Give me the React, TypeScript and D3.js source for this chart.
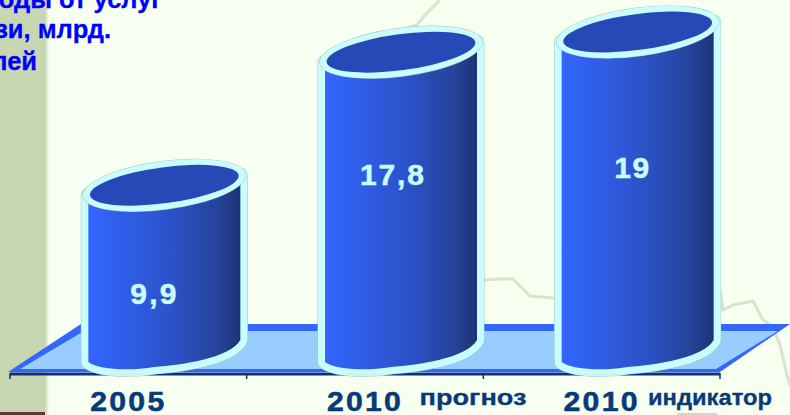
import React from "react";
import * as d3 from "d3";

const W = 790, H = 415;
const categories = ["2005", "2010 прогноз", "2010 индикатор"];
const values = [9.9, 17.8, 19];
const valueLabels = ["9,9", "17,8", "19"];
const axisYears = ["2005", "2010", "2010"];
const axisNotes = ["", "прогноз", "индикатор"];
const titleLines = ["Доходы от услуг", "связи, млрд.", "рублей"];
const mapRiverA: [number, number][] = [[440, 0], [432, 8], [425, 15], [417, 25], [407, 28], [402, 33]];
const mapRiverB: [number, number][] = [[483, 280], [498, 279], [513, 279], [522, 288], [530, 296], [553, 298], [560, 298]];
const mapRiverC: [number, number][] = [[720, 290], [723, 310], [733, 305], [753, 301], [763, 320], [772, 326], [780, 345], [787, 375], [790, 385]];

const x = d3.scaleBand<string>().domain(categories).range([10, 720]);
const y = d3.scaleLinear().domain([0, 19]).range([352, 32]);
const line = d3.line<[number, number]>();
const depth = 36;

function Cylinder({ value, cat, label, i }: { value: number; cat: string; label: string; i: number }) {
  const cx = x(cat)! + x.bandwidth() / 2 + depth;
  const yt = y(value), hw = 76, tip = 10, ry = 18, base = y(0);
  const left = cx - hw, right = cx + hw;
  const body = d3.path();
  body.moveTo(left, yt + tip);
  body.lineTo(left, base + 10);
  body.bezierCurveTo(left + 10, base + 18, left + 42, base + 19, cx - 10, base + 15);
  body.bezierCurveTo(cx + 18, base + 13, right - 10, base + 6, right, base - 12);
  body.lineTo(right, yt - tip);
  body.closePath();
  const d = body.toString();
  const rot = `rotate(-7.6 ${cx} ${yt})`;
  const dx = [-11, -9, -6][i];
  const ly = yt + [119, 133, 146][i];
  return (
    <g>
      <path d={d} fill="none" stroke="#a9c6c0" strokeWidth={15} strokeLinejoin="round" />
      <path d={d} fill="none" stroke="#c9fdfd" strokeWidth={14} strokeLinejoin="round" />
      <path d={d} fill="url(#bar)" />
      <ellipse cx={cx} cy={yt} rx={hw + 6.5} ry={ry + 6.5} transform={rot} fill="#a9c6c0" />
      <ellipse cx={cx} cy={yt} rx={hw + 6} ry={ry + 6} transform={rot} fill="#c9fdfd" />
      <ellipse cx={cx} cy={yt} rx={hw - 1} ry={ry} transform={rot} fill="#2749b8" />
      <text x={cx + dx} y={ly} textAnchor="middle" fontFamily="Liberation Sans" fontWeight={700} fontSize={30}
        textLength={[46, 64, 35][i]} lengthAdjust="spacing"
        stroke="#c9fdfd" strokeWidth={0.5} fill="#c9fdfd">{label}</text>
      <line x1={cx - 54} x2={cx - 16} y1={374.5} y2={374.5} stroke="#cfeef0" strokeWidth={2} />
    </g>
  );
}

export default function App() {
  const floorOuter = d3.line()([[8, 372], [81, 324], [790, 324], [720, 372]]) + "Z";
  const floorInner = d3.line()([[20, 369], [84, 331], [778, 331], [716, 369]]) + "Z";
  return (
    <svg width={W} height={H} viewBox={`0 0 ${W} ${H}`}
      style={{ position: "fixed", left: 0, top: 0, display: "block" }}>
      <defs>
        <linearGradient id="bar" x1="0" x2="1" y1="0" y2="0">
          <stop offset="0" stopColor="#3366ff" />
          <stop offset="0.55" stopColor="#2c52c8" />
          <stop offset="0.85" stopColor="#254399" />
          <stop offset="1" stopColor="#1d3377" />
        </linearGradient>
        <linearGradient id="fade" x1="0" x2="1" y1="0" y2="0">
          <stop offset="0" stopColor="#c8d7b2" />
          <stop offset="1" stopColor="#f6fff0" />
        </linearGradient>
      </defs>
      <rect width={W} height={H} fill="#f6fff0" />
      <rect width={45} height={H} fill="#c8d7b2" />
      <rect x={45} width={4} height={H} fill="url(#fade)" />
      <rect y={412} width={45} height={3} fill="#5a3c34" />
      <rect x={677} y={413} width={40} height={2} fill="#d5d5d0" />
      {[mapRiverA, mapRiverB, mapRiverC].map((r, i) => (
        <path key={i} d={line(r)!} fill="none" stroke="#dbe3cb" strokeWidth={3} strokeLinejoin="round" />
      ))}
      {titleLines.map((t, i) => (
        <text key={t} x={[162, 111, 37][i]} y={[8, 38, 70][i]} textAnchor="end"
          fontFamily="Liberation Sans" fontWeight={700} fontSize={25.5} stroke="#0000ff" strokeWidth={0.3} fill="#0000ff">{t}</text>
      ))}
      <path d={floorOuter} fill="#3366ff" />
      <path d={floorInner} fill="#99ccff" />
      <line x1={10} x2={720} y1={374} y2={374} stroke="#0d2f86" strokeWidth={3} />
      {d3.range(4).map((i) => {
        const tx = 10 + i * x.step();
        return <line key={i} x1={tx} x2={tx} y1={373} y2={379} stroke="#0d2f6f" strokeWidth={1.5} />;
      })}
      {categories.map((c, i) => (
        <Cylinder key={c} cat={c} i={i} value={values[i]} label={valueLabels[i]} />
      ))}
      {categories.map((c, i) => (
        <text key={c} transform={`translate(${x(c)! + x.bandwidth() / 2} 411) scale(1.12 1)`} textAnchor="middle"
          fontFamily="Liberation Sans" fontWeight={700} fontSize={27} letterSpacing={2}
          stroke="#083a78" strokeWidth={0.5} fill="#083a78">{axisYears[i]}</text>
      ))}
      {axisNotes.map((n, i) => n && (
        <text key={i} x={[0, 473, 710][i]} y={405} textAnchor="middle"
          fontFamily="Liberation Sans" fontWeight={700} fontSize={22} textLength={[0, 107, 124][i]} lengthAdjust="spacingAndGlyphs"
          stroke="#083a78" strokeWidth={0.3} fill="#083a78">{n}</text>
      ))}
    </svg>
  );
}
